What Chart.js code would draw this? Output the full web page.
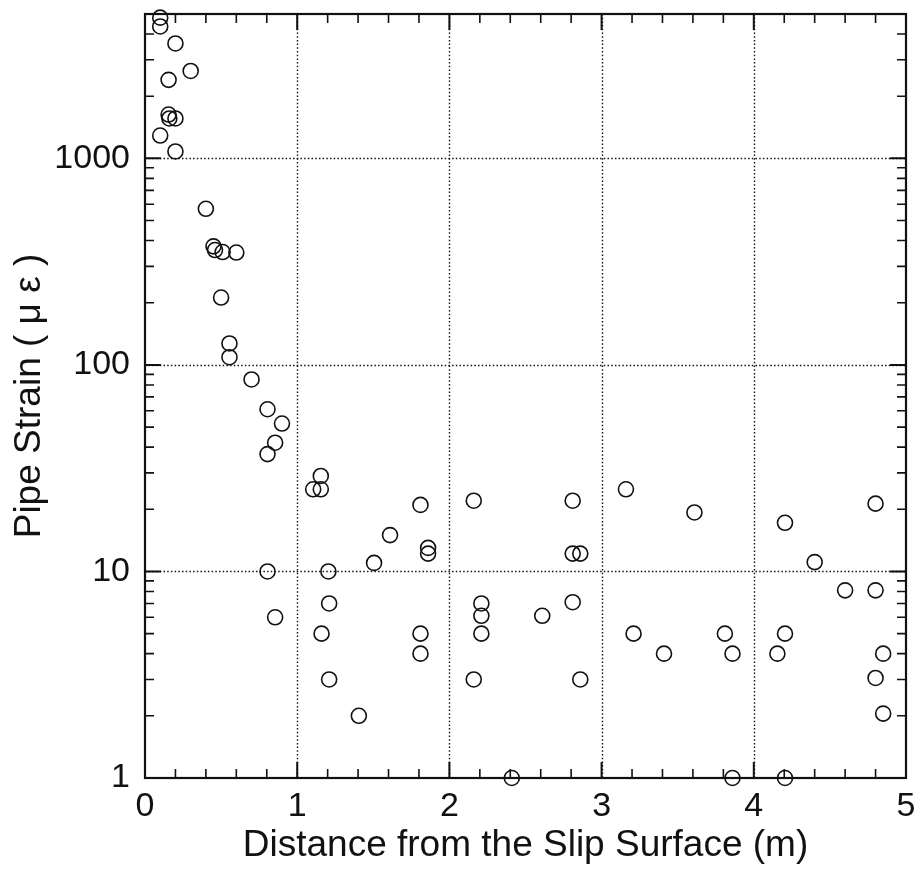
<!DOCTYPE html>
<html>
<head>
<meta charset="utf-8">
<script src="https://cdn.jsdelivr.net/npm/chart.js@4/dist/chart.umd.min.js"></script>
<style>
  html, body { margin: 0; padding: 0; background: #ffffff; }
  #wrap { width: 919px; height: 873px; position: relative; }
</style>
</head>
<body>
<div id="wrap"><canvas id="c" width="919" height="873"></canvas></div>
<script>
// ---- data ----
const distance = [
  0.10, 0.10, 0.20, 0.30, 0.155, 0.155, 0.16, 0.20, 0.10, 0.20,
  0.40, 0.45, 0.46, 0.51, 0.60, 0.50, 0.555, 0.555, 0.70, 0.805,
  0.90, 0.855, 0.805, 1.155, 1.105, 1.155, 0.805, 0.855, 1.205, 1.21,
  1.16, 1.21, 1.405, 1.505, 1.61, 1.81, 1.86, 1.86, 1.81, 1.81,
  2.16, 2.16, 2.21, 2.21, 2.21, 2.41, 2.61, 2.81, 2.81, 2.86,
  2.81, 2.86, 3.16, 3.21, 3.41, 3.61, 3.81, 3.86, 3.86, 4.155,
  4.205, 4.205, 4.205, 4.40, 4.60, 4.80, 4.80, 4.80, 4.85, 4.85
];
const strain = [
  4800, 4350, 3600, 2650, 2400, 1630, 1560, 1560, 1290, 1080,
  570, 375, 360, 352, 350, 212, 127, 109, 85, 61,
  52, 42, 37, 29, 25, 25, 10, 6, 10, 7,
  5, 3, 2, 11, 15, 21, 13, 12.2, 5, 4,
  22, 3, 7, 6.1, 5, 1, 6.1, 22, 12.2, 12.2,
  7.1, 3, 25, 5, 4, 19.3, 5, 4, 1, 4,
  17.2, 5, 1, 11.1, 8.1, 21.3, 8.1, 3.05, 4, 2.05
];
const xTickLabels = [0, 1, 2, 3, 4, 5];
const yTickLabels = [1, 10, 100, 1000];
const xTitle = 'Distance from the Slip Surface (m)';
const yTitle = 'Pipe Strain ( \u03BC \u03B5 )';

const points = distance.map((d, i) => ({ x: d, y: strain[i] }));

const FONT = '"Liberation Sans", Arial, Helvetica, sans-serif';

const framePlugin = {
  id: 'framePlugin',
  beforeDatasetsDraw(chart) {
    const { ctx, chartArea: a, scales: { x, y } } = chart;
    ctx.save();
    ctx.strokeStyle = '#111';
    ctx.lineWidth = 1.4;
    ctx.setLineDash([1.5, 2.2]);
    xTickLabels.forEach(v => {
      if (v <= x.min || v >= x.max) return;
      const px = Math.round(x.getPixelForValue(v)) + 0.5;
      ctx.beginPath(); ctx.moveTo(px, a.top); ctx.lineTo(px, a.bottom); ctx.stroke();
    });
    yTickLabels.forEach(v => {
      if (v <= y.min || v >= y.max) return;
      const py = Math.round(y.getPixelForValue(v)) + 0.5;
      ctx.beginPath(); ctx.moveTo(a.left, py); ctx.lineTo(a.right, py); ctx.stroke();
    });
    ctx.restore();
  },
  afterDatasetsDraw(chart) {
    const { ctx, chartArea: a, scales: { x, y } } = chart;
    ctx.save();
    ctx.setLineDash([]);
    ctx.strokeStyle = '#111';
    const MAJ = 16, MIN = 9;
    for (let i = 0; i <= 25; i++) {
      const v = i / 5;
      const major = i % 5 === 0;
      const px = x.getPixelForValue(v);
      const L = major ? MAJ : MIN;
      ctx.lineWidth = major ? 2 : 1.6;
      ctx.beginPath();
      ctx.moveTo(px, a.bottom); ctx.lineTo(px, a.bottom - L);
      ctx.moveTo(px, a.top); ctx.lineTo(px, a.top + L);
      ctx.stroke();
    }
    for (let e = 0; e <= 3; e++) {
      for (let m = 1; m <= 9; m++) {
        const v = m * Math.pow(10, e);
        if (v > y.max) continue;
        const major = m === 1;
        const py = y.getPixelForValue(v);
        const L = major ? MAJ : MIN;
        ctx.lineWidth = major ? 2 : 1.6;
        ctx.beginPath();
        ctx.moveTo(a.left, py); ctx.lineTo(a.left + L, py);
        ctx.moveTo(a.right, py); ctx.lineTo(a.right - L, py);
        ctx.stroke();
      }
    }
    ctx.lineWidth = 2.2;
    ctx.strokeRect(a.left, a.top, a.right - a.left, a.bottom - a.top);
    ctx.restore();
  }
};

new Chart(document.getElementById('c'), {
  type: 'scatter',
  data: {
    datasets: [{
      label: 'Pipe strain',
      data: points,
      pointStyle: 'circle',
      pointRadius: 7.5,
      pointHoverRadius: 7.5,
      borderWidth: 1.6,
      borderColor: '#111',
      backgroundColor: 'rgba(0,0,0,0)',
      clip: false
    }]
  },
  options: {
    responsive: false,
    animation: false,
    devicePixelRatio: 1,
    layout: { padding: { left: 0, top: 14, right: 13, bottom: 0 } },
    plugins: { legend: { display: false }, tooltip: { enabled: false } },
    scales: {
      x: {
        type: 'linear',
        min: 0, max: 5,
        grid: { display: false, drawTicks: false },
        border: { display: false },
        afterBuildTicks: s => { s.ticks = xTickLabels.map(v => ({ value: v })); },
        afterFit: s => { s.height = 95; s.paddingLeft = 0; s.paddingRight = 0; },
        ticks: {
          padding: 8,
          color: '#111',
          font: { family: FONT, size: 34 },
          callback: v => String(v),
          maxRotation: 0
        },
        title: {
          display: true,
          text: xTitle,
          color: '#111',
          font: { family: FONT, size: 37, lineHeight: 1.2 },
          padding: { top: 0, bottom: 5 }
        }
      },
      y: {
        type: 'logarithmic',
        min: 1, max: 5000,
        grid: { display: false, drawTicks: false },
        border: { display: false },
        afterBuildTicks: s => { s.ticks = yTickLabels.map(v => ({ value: v })); },
        afterFit: s => { s.width = 145; s.paddingTop = 0; s.paddingBottom = 0; },
        ticks: {
          padding: 15,
          color: '#111',
          font: { family: FONT, size: 34 },
          callback: v => String(v),
          autoSkip: false
        },
        title: {
          display: true,
          text: yTitle,
          color: '#111',
          font: { family: FONT, size: 37, lineHeight: 1.2 },
          padding: { top: 8, bottom: 0 }
        }
      }
    }
  },
  plugins: [framePlugin]
});
</script>
</body>
</html>
